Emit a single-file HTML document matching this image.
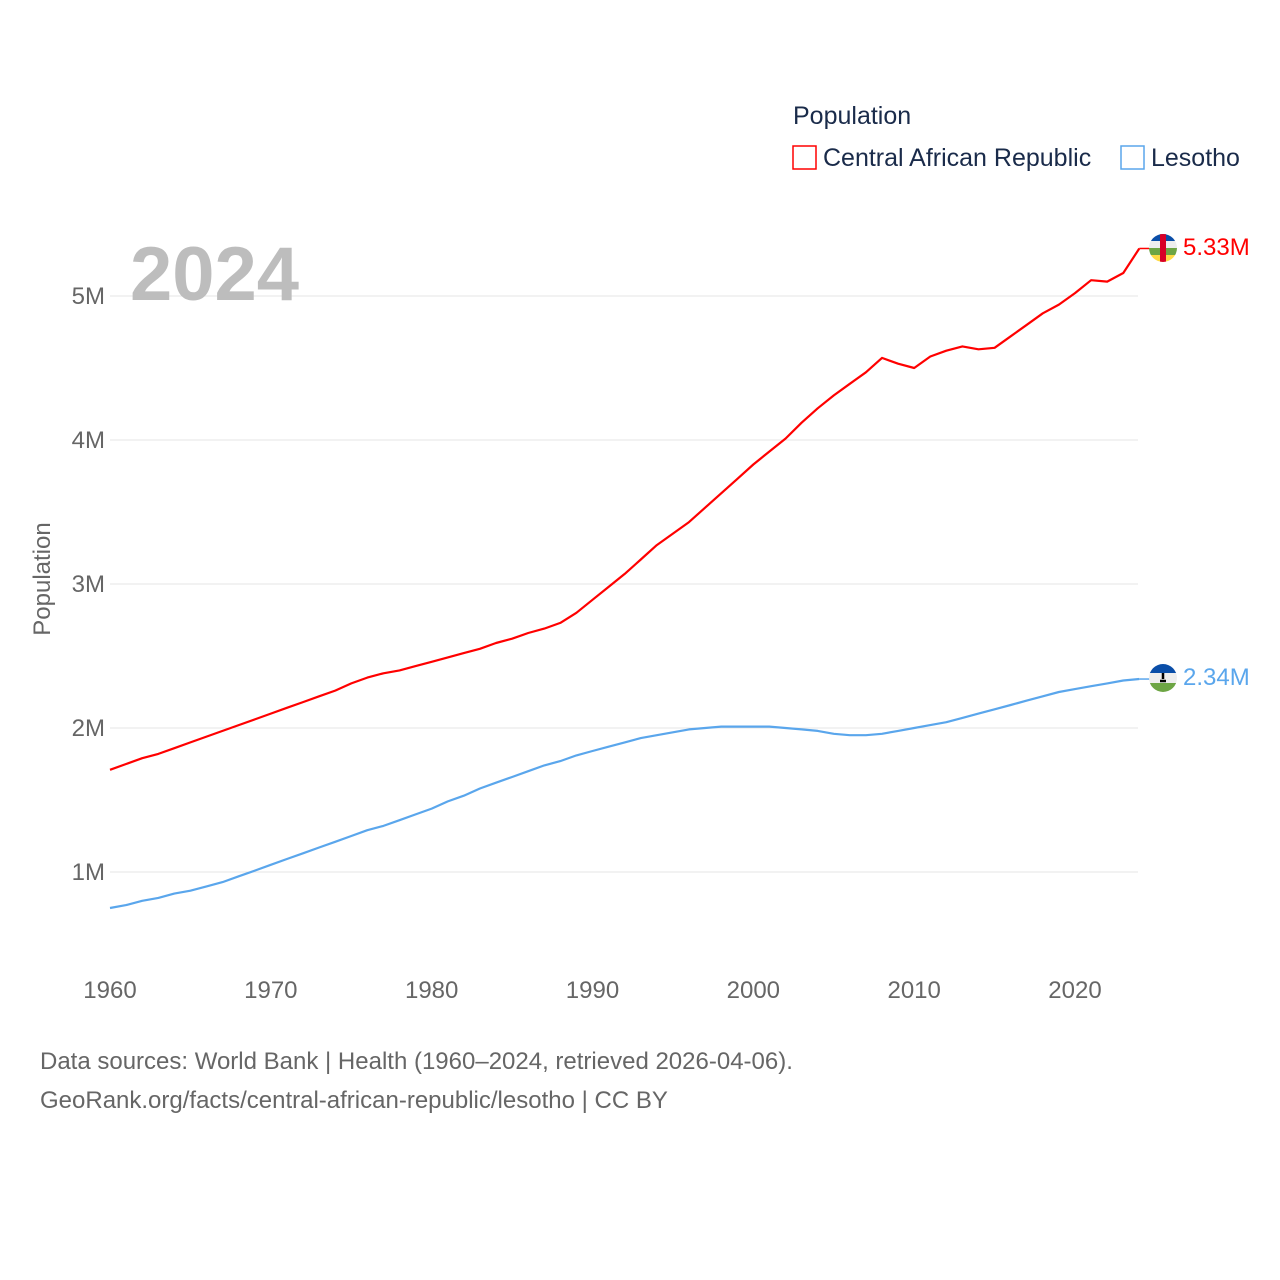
<!DOCTYPE html>
<html><head><meta charset="utf-8"><style>
body{margin:0;background:#fff;}
svg{display:block;font-family:"Liberation Sans",sans-serif;}
</style></head><body>
<svg id="chart" width="1280" height="1280">
<rect width="1280" height="1280" fill="#fff"/>
<g id="grid"></g>
<g id="yticks"></g>
<g id="xticks"></g>
<text x="130" y="300" font-size="76" font-weight="bold" fill="#bdbdbd">2024</text>
<text transform="translate(50,579) rotate(-90)" text-anchor="middle" font-size="24" fill="#666">Population</text>
<text x="793" y="124" font-size="25" fill="#1a2b4a">Population</text>
<g><rect x="793" y="146" width="23" height="23" fill="none" stroke="#f00" stroke-width="1.5"/><text x="823" y="166" font-size="25" fill="#1a2b4a">Central African Republic</text></g>
<g><rect x="1121" y="146" width="23" height="23" fill="none" stroke="#5aa6ec" stroke-width="1.5"/><text x="1151" y="166" font-size="25" fill="#1a2b4a">Lesotho</text></g>
<g id="series"></g>
<defs>
<clipPath id="c1"><circle cx="1163" cy="248" r="14"/></clipPath>
<clipPath id="c2"><circle cx="1163" cy="678" r="14"/></clipPath>
</defs>
<g clip-path="url(#c1)">
<rect x="1149" y="234" width="28" height="7" fill="#0a4ea8"/><rect x="1149" y="241" width="28" height="7" fill="#eee"/><rect x="1149" y="248" width="28" height="7" fill="#6da544"/><rect x="1149" y="255" width="28" height="7" fill="#ffda44"/><rect x="1160" y="234" width="6" height="28" fill="#d80027"/>
</g>
<g clip-path="url(#c2)">
<rect x="1149" y="664" width="28" height="9" fill="#0a4ea8"/><rect x="1149" y="673" width="28" height="10" fill="#eee"/><rect x="1149" y="683" width="28" height="9" fill="#6da544"/><path d="M1163 673v6M1160 681h6" stroke="#000" stroke-width="2.5"/>
</g>
<text x="1183" y="255" font-size="24" fill="#f00">5.33M</text>
<text x="1183" y="685" font-size="24" fill="#5aa6ec">2.34M</text>
<text x="40" y="1069" font-size="24" fill="#666">Data sources: World Bank | Health (1960–2024, retrieved 2026-04-06).</text>
<text x="40" y="1108" font-size="24" fill="#666">GeoRank.org/facts/central-african-republic/lesotho | CC BY</text>
</svg>
<script>
const years=[];for(let y=1960;y<=2024;y++)years.push(y);
const carValues=[1.71,1.75,1.79,1.82,1.86,1.90,1.94,1.98,2.02,2.06,2.10,2.14,2.18,2.22,2.26,2.31,2.35,2.38,2.40,2.43,2.46,2.49,2.52,2.55,2.59,2.62,2.66,2.69,2.73,2.80,2.89,2.98,3.07,3.17,3.27,3.35,3.43,3.53,3.63,3.73,3.83,3.92,4.01,4.12,4.22,4.31,4.39,4.47,4.57,4.53,4.50,4.58,4.62,4.65,4.63,4.64,4.72,4.80,4.88,4.94,5.02,5.11,5.10,5.16,5.33];
const lesothoValues=[0.75,0.77,0.80,0.82,0.85,0.87,0.90,0.93,0.97,1.01,1.05,1.09,1.13,1.17,1.21,1.25,1.29,1.32,1.36,1.40,1.44,1.49,1.53,1.58,1.62,1.66,1.70,1.74,1.77,1.81,1.84,1.87,1.90,1.93,1.95,1.97,1.99,2.00,2.01,2.01,2.01,2.01,2.00,1.99,1.98,1.96,1.95,1.95,1.96,1.98,2.00,2.02,2.04,2.07,2.10,2.13,2.16,2.19,2.22,2.25,2.27,2.29,2.31,2.33,2.34];
const yTicks=[1,2,3,4,5];
const yTickLabels=["1M","2M","3M","4M","5M"];
const xTicks=[1960,1970,1980,1990,2000,2010,2020];
const NS="http://www.w3.org/2000/svg";
const xs=y=>110+(y-1960)*(1075-110)/60;
const ys=v=>1016-v*144;
function mk(t,a,p){const e=document.createElementNS(NS,t);for(const k in a)e.setAttribute(k,a[k]);p.appendChild(e);return e;}
const grid=document.getElementById('grid'),yt=document.getElementById('yticks'),xt=document.getElementById('xticks'),ser=document.getElementById('series');
yTicks.forEach((v,i)=>{
 const l=mk('line',{x1:110,x2:1138,y1:ys(v),y2:ys(v),stroke:'#e6e6e6','stroke-width':1},grid);
 
 
 const t=mk('text',{x:105,y:ys(v)+8,'text-anchor':'end','font-size':24,fill:'#666'},yt);
 t.textContent=yTickLabels[i];
 
 
});
xTicks.forEach(y=>{
 const t=mk('text',{x:xs(y),y:998,'text-anchor':'middle','font-size':24,fill:'#666'},xt);
 t.textContent=y;
 
 
});
function line(vals,color,name){
 const d=vals.map((v,i)=>(i?'L':'M')+xs(years[i]).toFixed(1)+' '+ys(v).toFixed(1)).join('');
 const p=mk('path',{d:d,fill:'none',stroke:color,'stroke-width':2.2,'stroke-linejoin':'round'},ser);
 
 
 const last=vals[vals.length-1];
 const c=mk('line',{x1:xs(2024),x2:1150,y1:ys(last),y2:ys(last),stroke:color,'stroke-width':1.5},ser);
 
 
}
line(carValues,'#ff0000','car-line');
line(lesothoValues,'#5aa6ec','lesotho-line');
</script>
</body></html>
